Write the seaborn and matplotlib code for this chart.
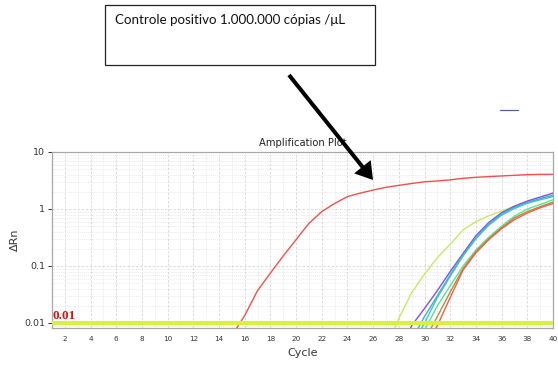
import numpy as np
import pandas as pd
import matplotlib
matplotlib.use("Agg")
import matplotlib.pyplot as plt
import matplotlib.ticker as mticker
import seaborn as sns

# ---- data ----
ctrl_cycles = [15, 16, 17, 18, 19, 20, 21, 22, 23, 24, 25, 26, 27, 28, 29, 30,
               31, 32, 33, 34, 35, 36, 37, 38, 39, 40]
ctrl_values = [0.006, 0.0135, 0.037, 0.075, 0.15, 0.29, 0.56, 0.9, 1.25, 1.65, 1.9,
               2.15, 2.4, 2.6, 2.8, 3.0, 3.1, 3.25, 3.45, 3.6, 3.7, 3.8, 3.9, 4.0,
               4.05, 4.05]

lime_cycles = [27, 28, 29, 30, 31, 32, 33, 34, 35, 36, 37, 38, 39, 40]
lime_values = [0.0035, 0.012, 0.034, 0.072, 0.14, 0.24, 0.43, 0.6, 0.76, 0.92, 1.12,
               1.32, 1.5, 1.7]

purple_cycles = [28, 29, 30, 31, 32, 33, 34, 35, 36, 37, 38, 39, 40]
purple_values = [0.003, 0.009, 0.018, 0.037, 0.08, 0.166, 0.34, 0.58, 0.86, 1.12,
                 1.38, 1.62, 1.9]

blue_cycles = [29, 30, 31, 32, 33, 34, 35, 36, 37, 38, 39, 40]
blue_values = [0.005, 0.013, 0.03, 0.07, 0.155, 0.31, 0.54, 0.82, 1.07, 1.3, 1.52, 1.75]

teal_cycles = [29, 30, 31, 32, 33, 34, 35, 36, 37, 38, 39, 40]
teal_values = [0.004, 0.01, 0.028, 0.066, 0.15, 0.3, 0.52, 0.78, 1.02, 1.26, 1.45, 1.65]

mint_cycles = [29, 30, 31, 32, 33, 34, 35, 36, 37, 38, 39, 40]
mint_values = [0.003, 0.0075, 0.02, 0.045, 0.1, 0.19, 0.32, 0.5, 0.75, 1.0, 1.2, 1.45]

brown_cycles = [30, 31, 32, 33, 34, 35, 36, 37, 38, 39, 40]
brown_values = [0.005, 0.013, 0.035, 0.09, 0.18, 0.3, 0.47, 0.7, 0.9, 1.1, 1.32]

orange_cycles = [30, 31, 32, 33, 34, 35, 36, 37, 38, 39, 40]
orange_values = [0.004, 0.009, 0.028, 0.085, 0.17, 0.29, 0.45, 0.65, 0.85, 1.05, 1.25]

threshold = 0.01
x_ticks = list(range(2, 41, 2))
y_ticks = [0.01, 0.1, 1, 10]
y_tick_labels = ["0.01", "0.1", "1", "10"]

series = [
    ("ctrl", ctrl_cycles, ctrl_values, "#f0504a"),
    ("lime", lime_cycles, lime_values, "#c8e864"),
    ("purple", purple_cycles, purple_values, "#8050e0"),
    ("blue", blue_cycles, blue_values, "#40a8e8"),
    ("teal", teal_cycles, teal_values, "#40c8b0"),
    ("mint", mint_cycles, mint_values, "#50e890"),
    ("brown", brown_cycles, brown_values, "#b88848"),
    ("orange", orange_cycles, orange_values, "#f06040"),
]

rows = []
for name, cs, vs, _ in series:
    for c, v in zip(cs, vs):
        rows.append({"well": name, "Cycle": c, "dRn": v})
df = pd.DataFrame(rows)
palette = {name: col for name, _, _, col in series}

sns.set_theme(style="white")
plt.rcParams['font.family'] = ['DejaVu Sans']

fig = plt.figure(figsize=(5.58, 3.65), dpi=100)
ax = fig.add_axes([52 / 558, 1 - 328 / 365, (553 - 52) / 558, (328 - 152) / 365])

ax.set_yscale("log")
ax.set_xlim(1, 40)
ax.set_ylim(10 ** (-2.088), 10)

# grid
ax.xaxis.set_major_locator(mticker.FixedLocator(x_ticks))
ax.xaxis.set_minor_locator(mticker.MultipleLocator(1))
ax.yaxis.set_major_locator(mticker.FixedLocator(y_ticks))
ax.yaxis.set_major_formatter(mticker.FixedFormatter(y_tick_labels))
ax.yaxis.set_minor_locator(mticker.LogLocator(base=10, subs=np.arange(2, 10)))
ax.yaxis.set_minor_formatter(mticker.NullFormatter())
ax.grid(True, which="major", color="#d4d4d4", linestyle=(0, (3, 2)), linewidth=0.6)
ax.grid(True, which="minor", color="#e2e2e2", linestyle=(0, (1.5, 1.5)), linewidth=0.5)
ax.set_axisbelow(True)

sns.lineplot(data=df, x="Cycle", y="dRn", hue="well", palette=palette,
             linewidth=1.0, legend=False, ax=ax, zorder=3)

ax.axhline(threshold, color="#d8f040", linewidth=3.0, zorder=4)
ax.text(1.05, threshold * 1.03, "0.01", color="#e01010", fontsize=9.5,
        fontweight="bold", family=["Liberation Serif", "DejaVu Serif"],
        ha="left", va="bottom", zorder=5)

for s in ax.spines.values():
    s.set_color("#a8a8a8")
    s.set_linewidth(0.9)

ax.tick_params(axis="x", which="major", labelsize=5.2, colors="#333333",
               length=0, pad=6)
ax.tick_params(axis="y", which="major", labelsize=6.8, colors="#333333",
               length=3, width=0.7, pad=2, left=True)
ax.tick_params(which="minor", length=0)

ax.set_xlabel("Cycle", fontsize=8, color="#333333", labelpad=4)
ax.set_ylabel("\u0394Rn", fontsize=8, color="#333333", labelpad=3)
ax.set_title("Amplification Plot", fontsize=7.2, color="#222222", pad=4)

# annotation box
fig.patches.append(plt.Rectangle((105 / 558, 1 - 65 / 365), 270 / 558, 60 / 365,
                                 transform=fig.transFigure, fill=False,
                                 edgecolor="#222222", linewidth=0.9))
fig.text(115 / 558, 1 - 20 / 365, "Controle positivo 1.000.000 c\u00f3pias /\u03bcL",
         fontsize=9.6, family=["Lato", "DejaVu Sans"], color="#111111",
         ha="left", va="center")

# arrow
fig.add_artist(matplotlib.patches.FancyArrowPatch(
    (289 / 558, 1 - 75 / 365), (373 / 558, 1 - 180 / 365),
    transform=fig.transFigure, arrowstyle="-|>,head_length=8,head_width=5",
    color="black", linewidth=2.9, mutation_scale=1.0, shrinkA=0, shrinkB=0,
    joinstyle="miter", capstyle="butt"))

# small stray dash at top right
fig.add_artist(matplotlib.lines.Line2D([500 / 558, 518 / 558],
                                       [1 - 110 / 365, 1 - 110 / 365],
                                       color="#5060a0", linewidth=0.9,
                                       transform=fig.transFigure))

fig.savefig("out.png", dpi=100, facecolor="white")
